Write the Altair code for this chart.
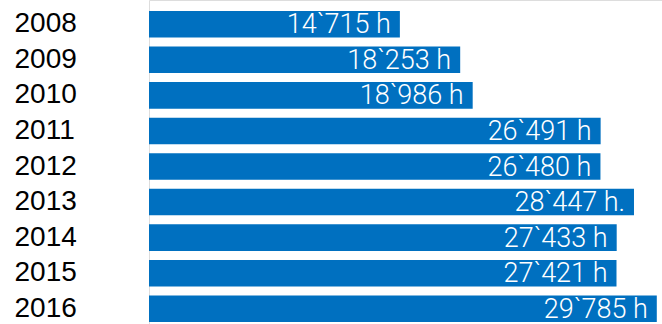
import altair as alt
import pandas as pd

years = ["2008", "2009", "2010", "2011", "2012", "2013", "2014", "2015", "2016"]
hours = [14715, 18253, 18986, 26491, 26480, 28447, 27433, 27421, 29785]
labels = ["14`715 h", "18`253 h", "18`986 h", "26`491 h", "26`480 h",
          "28`447 h.", "27`433 h", "27`421 h", "29`785 h"]

df = pd.DataFrame({"year": years, "hours": hours, "label": labels})

x = alt.X("hours:Q", scale=alt.Scale(domain=[0, 30090], nice=False, zero=True), axis=None)
y = alt.Y("year:N", sort=years,
          scale=alt.Scale(paddingInner=0.254, paddingOuter=0.183, align=0.846),
          axis=alt.Axis(title=None, ticks=False, tickSize=0, domain=False, grid=False,
                        labelAlign="left", labelPadding=135, labelFont="Liberation Sans",
                        labelFontSize=28, labelColor="#000000", labelBaseline="middle"))

bars = alt.Chart(df).mark_bar(color="#0070C0").encode(x=x, y=y)
text = alt.Chart(df).mark_text(align="right", baseline="middle", dx=-9, dy=1,
                               color="white", font="Roboto", fontWeight=300, fontSize=27).encode(
    x=x, y=alt.Y("year:N", sort=years), text="label:N")

chart = (bars + text).properties(
    width=513, height=324,
    autosize=alt.AutoSizeParams(type="none"),
    padding={"left": 149, "top": 0, "right": 0, "bottom": 0},
).configure_view(stroke="transparent", strokeWidth=0).configure_axis(
    domain=False, ticks=False, grid=False).configure(background="white")

chart.save("out.html", embed_options={"renderer": "svg", "actions": False})
